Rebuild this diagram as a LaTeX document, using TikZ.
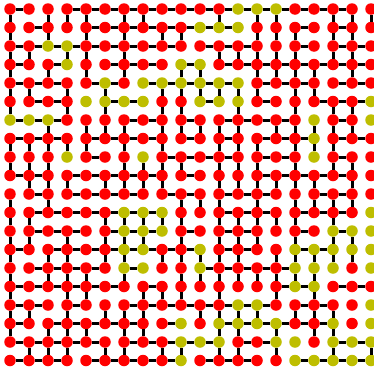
\documentclass[tikz,border=0pt]{standalone}
\usepackage{tikz}
\definecolor{olivedot}{RGB}{190,190,0}
\tikzset{
  dot/.style={circle,fill=red,inner sep=0pt,minimum size=11.5pt},
  link/.style={line width=3pt,black}
}

\begin{document}
\begin{tikzpicture}[x=1pt,y=-1pt]
\useasboundingbox (0,0) rectangle (374,370);
% olive sites, row by row
\foreach \r/\cl in {0/{12,13,14},1/{10,11,12},2/{2,3},3/{3,9,10},
  4/{5,7,8,9,10,11,12},5/{4,5,6,7,10,11,12,19},6/{0,1,2,16,19},7/{16},
  8/{3,7,16},11/{6,7,8,19},12/{6,7,8,17,18,19},13/{6,7,10,15,16,17,18,19},
  14/{6,7,10,15,16,17,19},15/{15,16},16/{12,13,19},17/{9,11,12,13,14,17,19},
  18/{9,10,11,14,15,17,18,19},19/{9,15,16,17,18,19}}
  \foreach \c in \cl {\expandafter\xdef\csname ol-\c-\r\endcsname{1}}
% the 20x20 sites
\foreach \r in {0,...,19}
  \foreach \c in {0,...,19} {
    \ifcsname ol-\c-\r\endcsname\def\dotcol{olivedot}\else\def\dotcol{red}\fi
    \node[dot,fill=\dotcol] (n-\c-\r) at ({10+19*\c},{9+18.5*\r}) {};
  }
% horizontal bonds
\foreach \r/\cl in {
  0/{0,3,4,5,6,7,8,9,10,11,12,13,14,15,16,17},
  1/{1,4,5,6,7,8,9,10,11,15,17},
  2/{0,1,2,3,4,5,6,7,8,10,11,12,15,17,18},
  3/{0,2,5,6,7,9,11,12,13,14,15,16,17,18},
  4/{0,1,2,4,5,7,8,9,10,11,13,14,15,17,18},
  5/{1,2,5,6,10,13,16,17,18},
  6/{0,1,2,6,7,9,11,12,13,14,17},
  7/{0,1,2,4,5,6,7,9,11,13,14,15,17,18},
  8/{4,8,9,10,11,13,14,17},
  9/{0,1,3,4,5,6,7,9,13,14,15,16,17},
  10/{1,3,4,5,6,8,9,11,12,13,16,17},
  11/{1,2,3,4,5,6,7,11,12,13,15,16,17},
  12/{1,2,3,5,6,7,9,11,12,15,17},
  13/{0,2,3,4,5,6,7,8,9,11,12,15,16},
  14/{1,2,3,4,6,10,11,12,13,14},
  15/{0,1,2,3,4,5,7,14,15,17,18},
  16/{0,1,3,6,7,8,9,10,11,12,13,15,16},
  17/{0,2,3,4,5,6,8,11,12,13,14,15,16},
  18/{0,1,2,3,4,6,7,8,9,10,12,13,17,18},
  19/{0,1,2,4,5,6,7,8,10,11,12,15,16,17,18}}
  \foreach \c in \cl {
    \pgfmathtruncatemacro\d{\c+1}
    \draw[link] (n-\c-\r) -- (n-\d-\r);
  }
% vertical bonds
\foreach \r/\cl in {
  0/{0,2,3,4,6,7,11,13,14,17,18,19},
  1/{0,2,4,6,8,9,13,14,15,17,18},
  2/{0,1,3,4,6,11,12,13,14,15,17,18},
  3/{0,2,4,6,9,10,13,14,15,16,18},
  4/{0,1,3,5,8,9,10,11,12,13,15,16},
  5/{0,3,5,8,9,12,15,17,18},
  6/{2,4,5,6,8,9,10,11,12,14,15,16,17,18},
  7/{0,1,2,3,4,6,8,11,12,13,15,16,17},
  8/{0,1,2,6,7,8,9,11,12,13,15,17,18},
  9/{1,2,3,5,6,7,8,11,12,13,14,15,16,18},
  10/{0,2,9,10,11,13,15,16,17,18},
  11/{0,1,5,6,7,8,9,11,12,13,14,15,17},
  12/{0,1,3,5,6,7,9,11,12,13,15,17,18},
  13/{0,2,3,5,6,8,9,10,11,12,14,15,16,17,18},
  14/{0,2,3,4,6,9,10,11,12,13,14,15,16},
  15/{0,3,4,7,8,9,11,14,16},
  16/{0,1,3,5,6,7,10,11,12,13,15,16,17},
  17/{0,2,3,4,6,7,11,12,14,16,17},
  18/{1,2,3,5,6,8,9,11,12,14,17,19}}
  \foreach \c in \cl {
    \pgfmathtruncatemacro\s{\r+1}
    \draw[link] (n-\c-\r) -- (n-\c-\s);
  }
\end{tikzpicture}
\end{document}
